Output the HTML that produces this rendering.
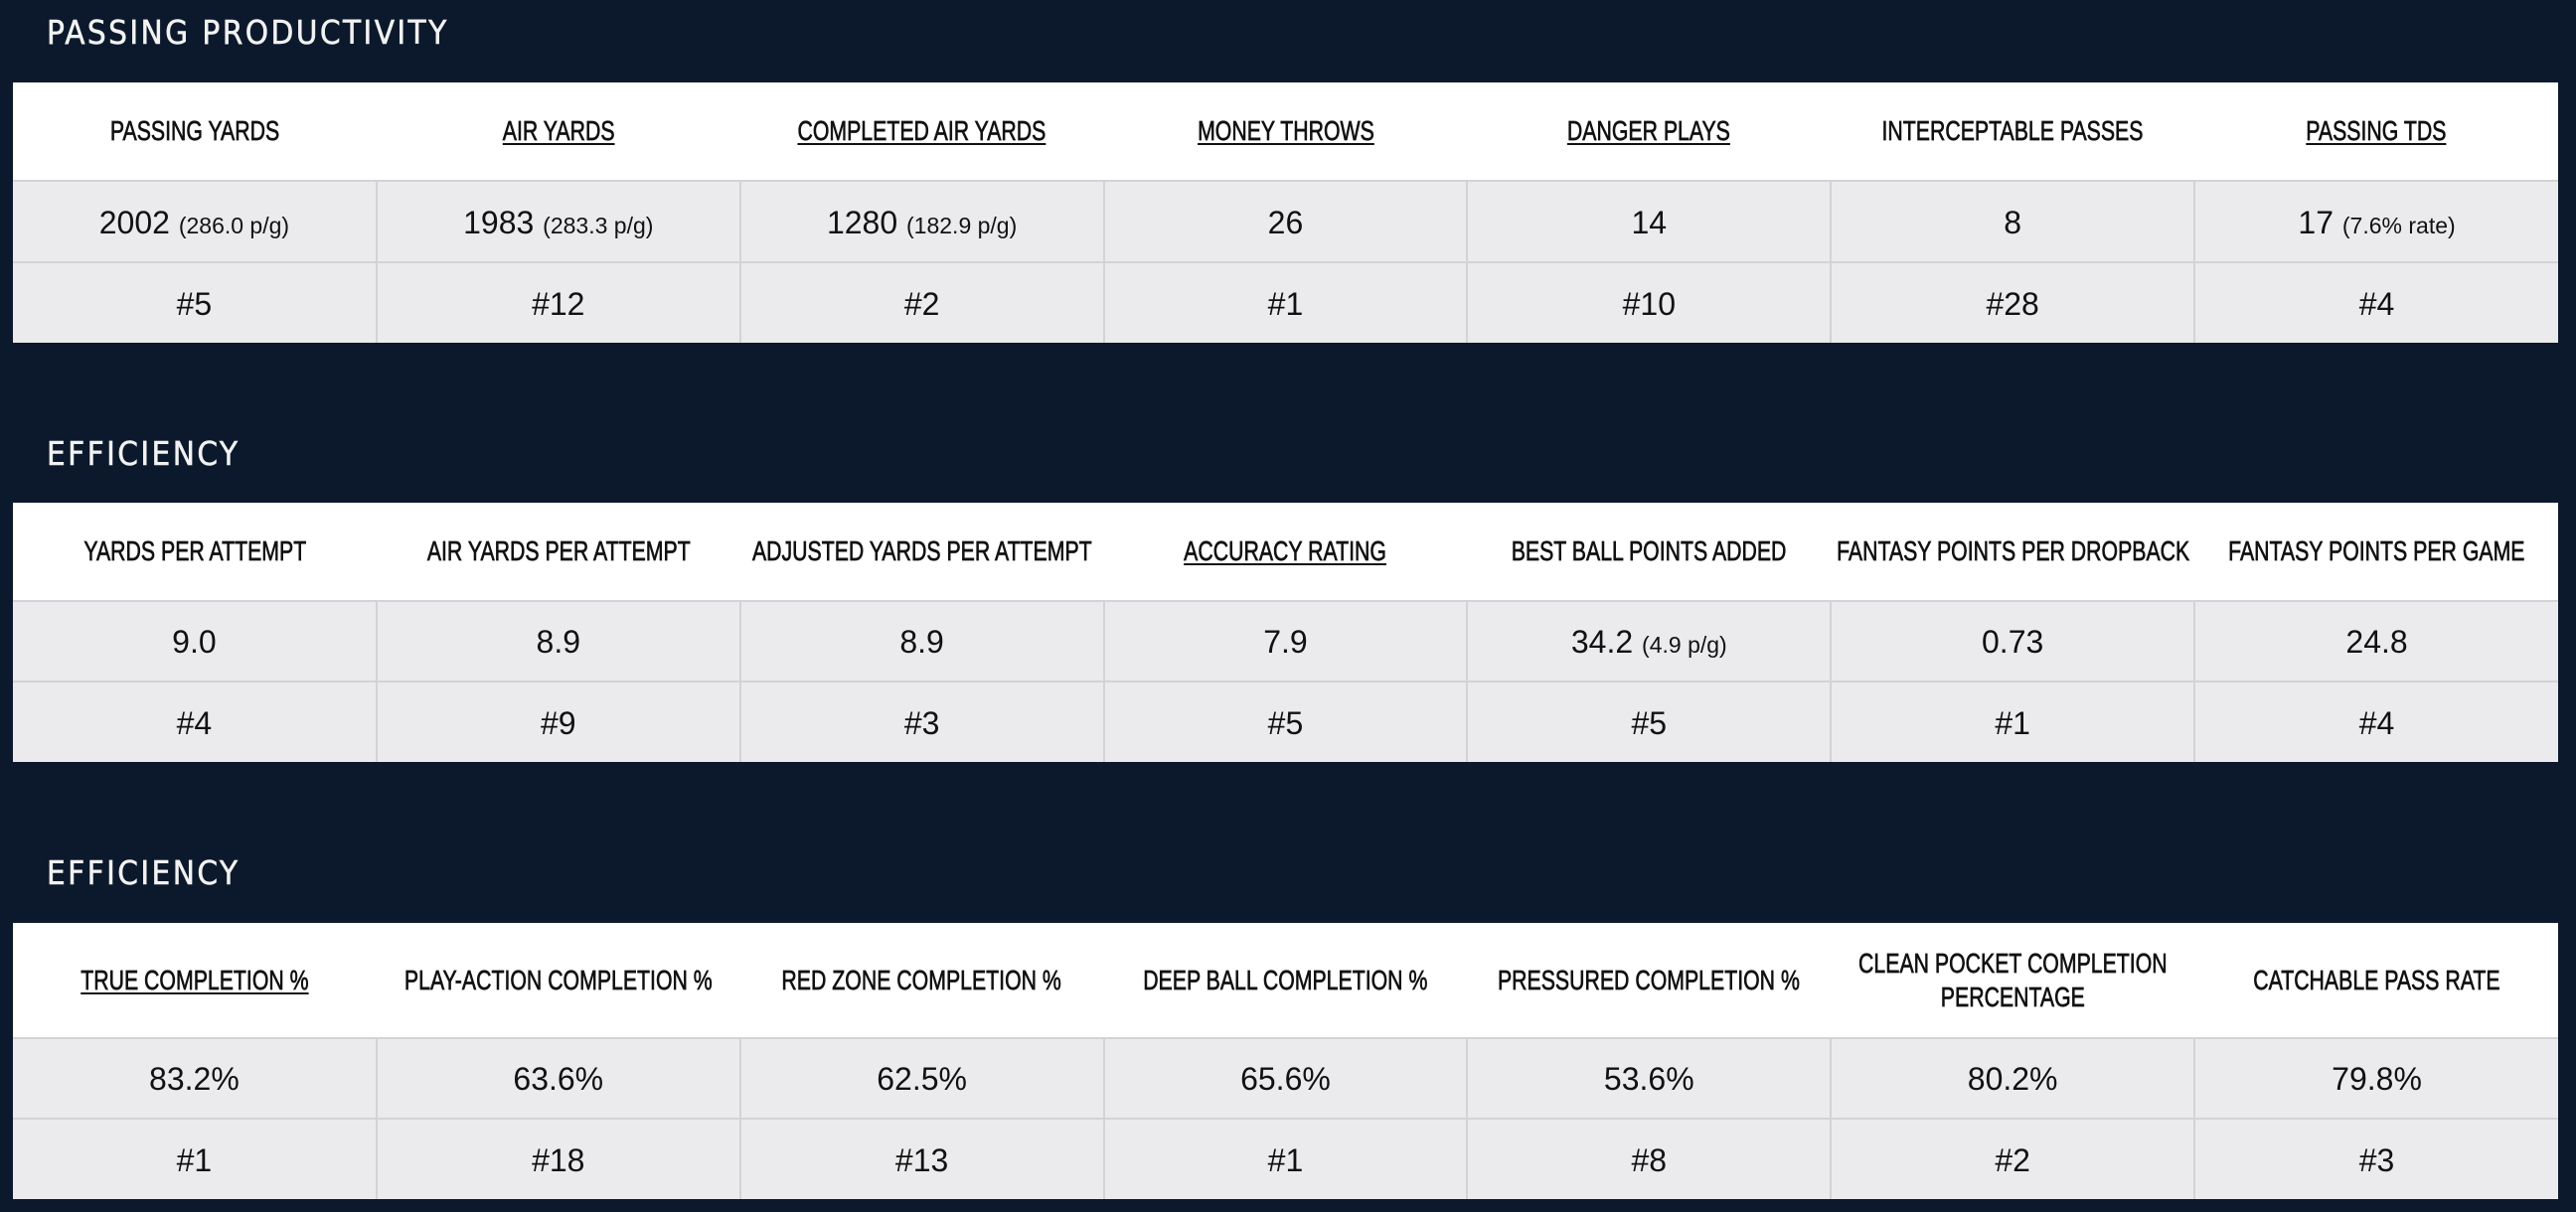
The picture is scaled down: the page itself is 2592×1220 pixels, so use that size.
<!DOCTYPE html>
<html><head><meta charset="utf-8"><style>
html,body{margin:0;padding:0;}
body{width:2592px;height:1220px;background:#0c192c;position:relative;overflow:hidden;font-family:"Liberation Sans",sans-serif;}
.t{position:absolute;left:47px;color:#f2f2f2;font-size:33px;letter-spacing:2.4px;font-family:"DejaVu Sans Condensed","Liberation Sans",sans-serif;-webkit-text-stroke:0.5px #f2f2f2;}
table{position:absolute;left:13px;width:2561px;border-collapse:collapse;table-layout:fixed;}
th{background:#fff;color:#111;font-weight:normal;font-size:28px;text-align:center;padding:0;line-height:34px;}
th div{display:flex;justify-content:center;}
th span{display:inline-block;white-space:nowrap;transform:scaleX(0.76);-webkit-text-stroke:0.7px #111;}
th u{text-decoration-thickness:2px;text-underline-offset:3px;}
td{background:#ebebed;color:#111;text-align:center;font-size:32px;border:2px solid #d3d3d6;padding-top:3px;}
tr td:first-child{border-left:none}tr td:last-child{border-right:none}
tr:last-child td{border-bottom:none}
small{font-size:23px;}
</style></head><body>
<div class="t" style="top:13px">PASSING PRODUCTIVITY</div>
<table style="top:83px">
<tr style="height:99px"><th><div><span>PASSING YARDS</span></div></th><th><div><span><u>AIR YARDS</u></span></div></th><th><div><span><u>COMPLETED AIR YARDS</u></span></div></th><th><div><span><u>MONEY THROWS</u></span></div></th><th><div><span><u>DANGER PLAYS</u></span></div></th><th><div><span>INTERCEPTABLE PASSES</span></div></th><th><div><span><u>PASSING TDS</u></span></div></th></tr>
<tr style="height:82px"><td>2002 <small>(286.0 p/g)</small></td><td>1983 <small>(283.3 p/g)</small></td><td>1280 <small>(182.9 p/g)</small></td><td>26</td><td>14</td><td>8</td><td>17 <small>(7.6% rate)</small></td></tr>
<tr style="height:81px"><td>#5</td><td>#12</td><td>#2</td><td>#1</td><td>#10</td><td>#28</td><td>#4</td></tr>
</table>
<div class="t" style="top:437px">EFFICIENCY</div>
<table style="top:506px">
<tr style="height:99px"><th><div><span>YARDS PER ATTEMPT</span></div></th><th><div><span>AIR YARDS PER ATTEMPT</span></div></th><th><div><span>ADJUSTED YARDS PER ATTEMPT</span></div></th><th><div><span><u>ACCURACY RATING</u></span></div></th><th><div><span>BEST BALL POINTS ADDED</span></div></th><th><div><span>FANTASY POINTS PER DROPBACK</span></div></th><th><div><span>FANTASY POINTS PER GAME</span></div></th></tr>
<tr style="height:81px"><td>9.0</td><td>8.9</td><td>8.9</td><td>7.9</td><td>34.2 <small>(4.9 p/g)</small></td><td>0.73</td><td>24.8</td></tr>
<tr style="height:81px"><td>#4</td><td>#9</td><td>#3</td><td>#5</td><td>#5</td><td>#1</td><td>#4</td></tr>
</table>
<div class="t" style="top:859px">EFFICIENCY</div>
<table style="top:929px">
<tr style="height:116px"><th><div><span><u>TRUE COMPLETION %</u></span></div></th><th><div><span>PLAY-ACTION COMPLETION %</span></div></th><th><div><span>RED ZONE COMPLETION %</span></div></th><th><div><span>DEEP BALL COMPLETION %</span></div></th><th><div><span>PRESSURED COMPLETION %</span></div></th><th><div><span>CLEAN POCKET COMPLETION<br>PERCENTAGE</span></div></th><th><div><span>CATCHABLE PASS RATE</span></div></th></tr>
<tr style="height:81px"><td>83.2%</td><td>63.6%</td><td>62.5%</td><td>65.6%</td><td>53.6%</td><td>80.2%</td><td>79.8%</td></tr>
<tr style="height:81px"><td>#1</td><td>#18</td><td>#13</td><td>#1</td><td>#8</td><td>#2</td><td>#3</td></tr>
</table>
</body></html>
